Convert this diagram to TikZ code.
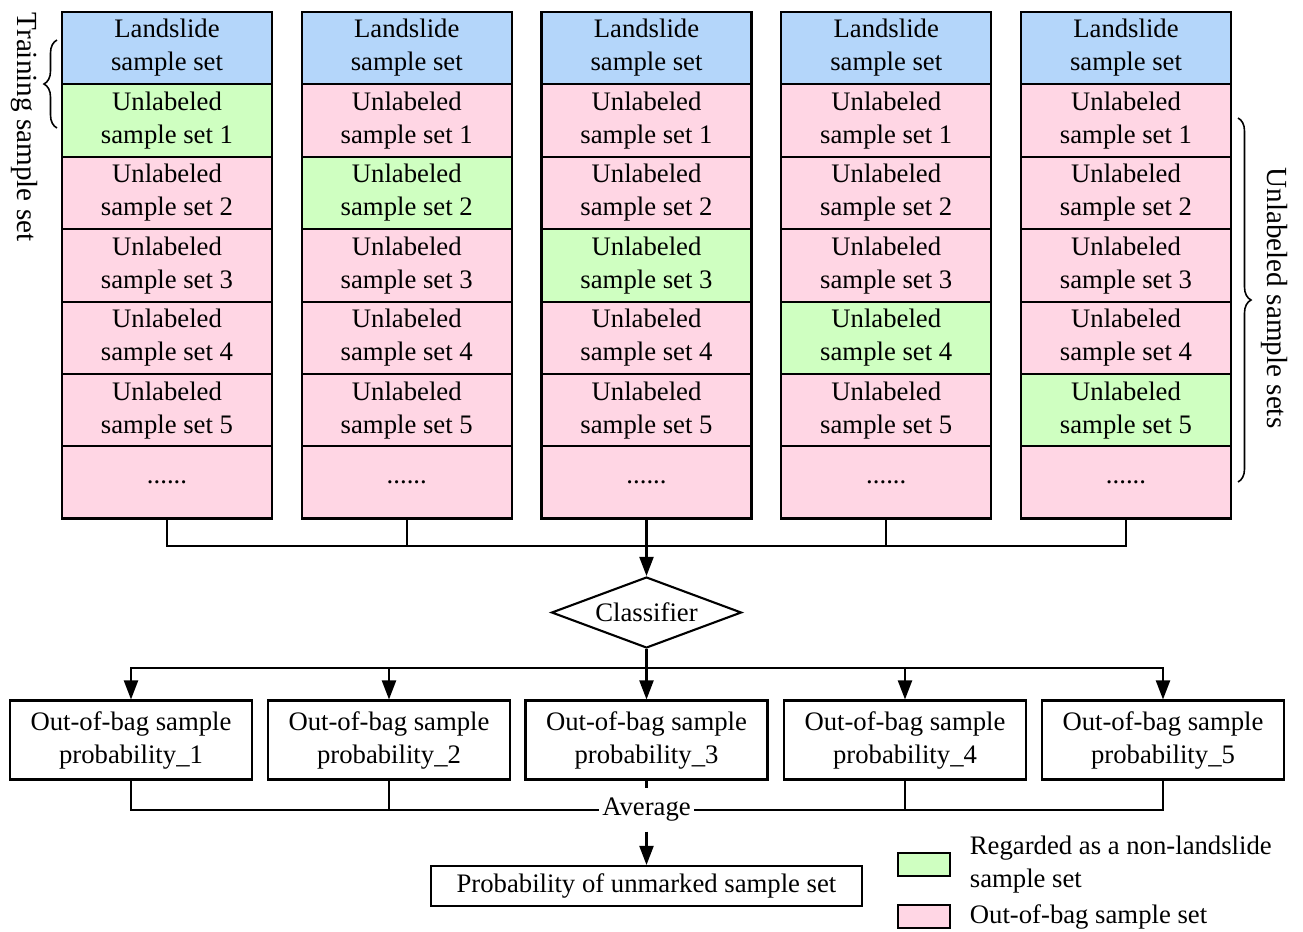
\documentclass[tikz,border=0pt]{standalone}
\usepackage{fontspec}
\setmainfont{Liberation Serif}
\usetikzlibrary{shapes.geometric,arrows.meta,decorations.pathreplacing}

\definecolor{slideblue}{RGB}{180,214,250}
\definecolor{trainGreen}{RGB}{207,255,193}
\definecolor{oobpink}{RGB}{255,214,228}

\tikzset{
	txt/.style={font=\fontsize{15.2}{18.8}\selectfont},
	cell/.style={txt, draw, minimum width=4.2cm, minimum height=1.45cm, inner sep=0pt, align=center},
	probbox/.style={txt, draw, minimum width=4.84cm, minimum height=1.58cm, inner sep=0pt, align=center},
	swatch/.style={draw, minimum width=1.04cm, minimum height=0.46cm, inner sep=0pt},
	sidelbl/.style={font=\fontsize{16.6}{20}\selectfont, rotate=-90},
	arr/.style={-{Triangle[length=0.38cm,width=0.28cm]}},
}

\begin{document}
\begin{tikzpicture}[x=0.02cm, y=-0.02cm, line width=1.2pt]
	\useasboundingbox (0,0) rectangle (1303,931);
	
	% sample set columns
	\foreach \c in {1,...,5} {
		\pgfmathsetmacro{\xc}{167+239.75*(\c-1)}
		\node[cell, fill=slideblue] (c\c-r0) at (\xc,48) {Landslide\\sample set};
		\foreach \r in {1,...,5} {
			\ifnum\r=\c \def\cellcol{trainGreen}\else\def\cellcol{oobpink}\fi
			\node[cell, fill=\cellcol] (c\c-r\r) at (\xc,48+72.5*\r) {Unlabeled\\sample set \r};
		}
		\node[cell, fill=oobpink] (c\c-r6) at (\xc,482.25) {......};
	}
	
	\draw[decorate, decoration={brace, amplitude=0.26cm}, line width=0.9pt] (57,128) -- (57,40);
	\node[sidelbl] (trainlbl) at (24,127) {Training sample set};
	
	\draw[decorate, decoration={brace, amplitude=0.26cm}, line width=0.9pt] (1238,118) -- (1238,482);
	\node[sidelbl] (unlbl) at (1275,298) {Unlabeled sample sets};
	
	% classifier
	\coordinate (topbus) at (646.5,546);
	\node[txt, draw, shape=diamond, aspect=2.68, minimum width=3.8cm, minimum height=1.42cm, inner sep=0pt] (clf) at (646.5,612.5) {Classifier};
	\foreach \c in {1,...,5}
		\draw (c\c-r6.south) |- (topbus);
	\draw[arr] (topbus) -- (clf.north);
	
	% out-of-bag probabilities
	\foreach \p/\xp in {1/131,2/389,3/646.5,4/905,5/1163}
		\node[probbox] (p\p) at (\xp,740) {Out-of-bag sample\\probability\_\p};
	
	\coordinate (midbus) at (646.5,668);
	\draw (clf.south) -- (midbus);
	\foreach \p in {1,...,5}
		\draw[arr] (midbus) -| (p\p.north);
	
	\node[txt, inner xsep=1.5pt, inner ysep=5pt] (avg) at (646.5,810) {Average};
	\foreach \p in {1,2}
		\draw (p\p.south) |- (avg.west);
	\foreach \p in {4,5}
		\draw (p\p.south) |- (avg.east);
	\draw (p3.south) -- (avg.north);
	
	\node[txt, draw, minimum width=8.62cm, minimum height=0.8cm, inner sep=0pt] (final) at (646.5,886) {Probability of unmarked sample set};
	\draw[arr] (avg.south) -- (final.north);
	
	% legend
	\node[swatch, fill=trainGreen] (lgreen) at (924,864.5) {};
	\node[swatch, fill=oobpink] (lpink) at (924,916.5) {};
	\node[txt, anchor=west, align=left] (lgreentxt) at (963,864.5) {Regarded as a non-landslide\\sample set};
	\node[txt, anchor=west] (lpinktxt) at (963,917) {Out-of-bag sample set};
	
\end{tikzpicture}
\end{document}
